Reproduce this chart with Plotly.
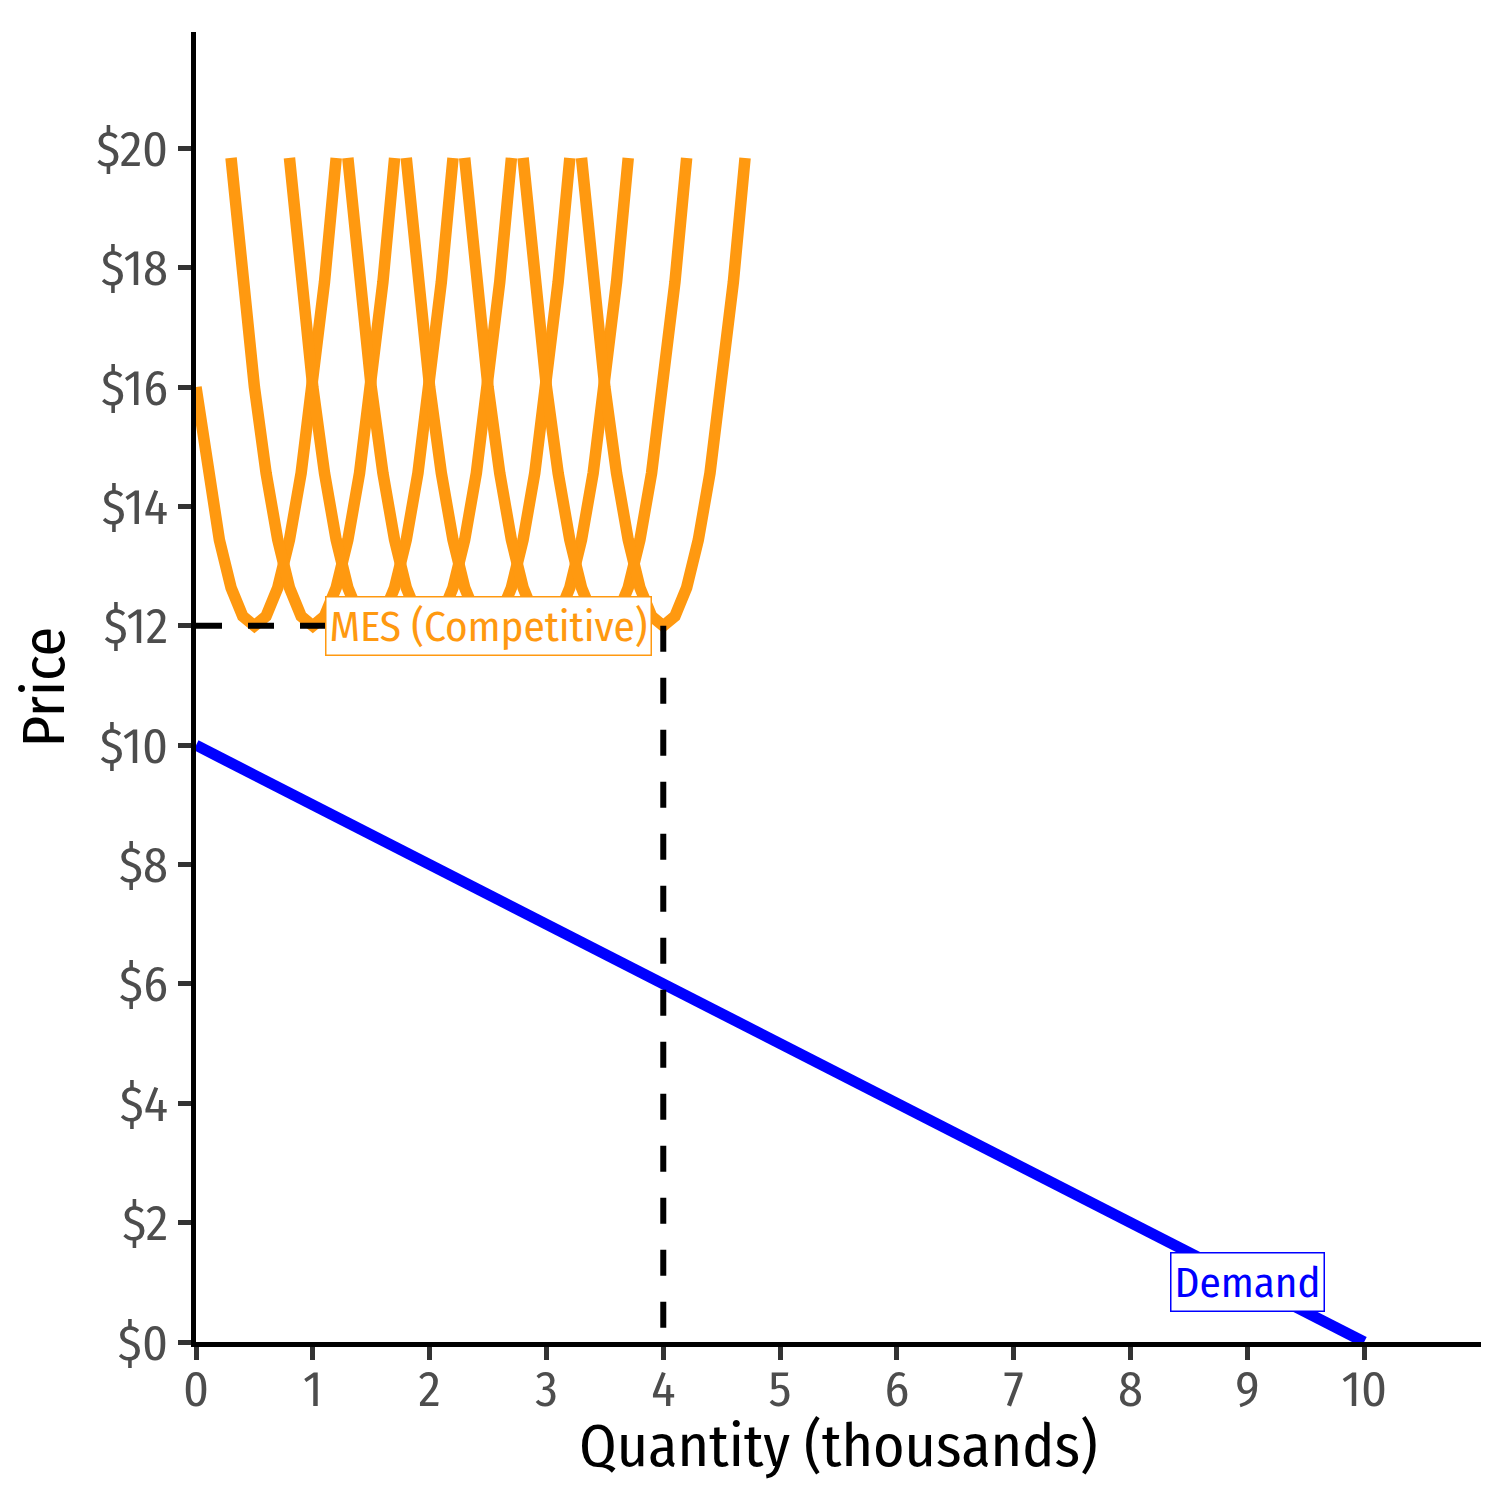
import plotly.graph_objects as go

# average cost curves: one U shape, repeated for each firm size
firm_centers = [0.5, 1.0, 1.5, 2.0, 2.5, 3.0, 3.5, 4.0]
atc_offsets = [-0.7, -0.6, -0.5, -0.4, -0.3, -0.2, -0.1, 0.0, 0.1, 0.2, 0.3, 0.4, 0.5, 0.6, 0.7]
atc_values = [19.84, 17.76, 16.00, 14.56, 13.44, 12.64, 12.16, 12.00, 12.16, 12.64, 13.44, 14.56, 16.00, 17.76, 19.84]

# demand curve
demand_q = [0, 10]
demand_p = [10, 0]

# minimum efficient scale
mes_q = 4
mes_p = 12

y_ticks = [0, 2, 4, 6, 8, 10, 12, 14, 16, 18, 20]
y_labels = ["$0", "$2", "$4", "$6", "$8", "$10", "$12", "$14", "$16", "$18", "$20"]
x_ticks = [0, 1, 2, 3, 4, 5, 6, 7, 8, 9, 10]

ORANGE = "#FF9910"
BLUE = "#0000FF"
FONT = "Fira Sans Condensed, Liberation Sans Narrow, Roboto Condensed, Arial Narrow, sans-serif"

fig = go.Figure()

for c in firm_centers:
    xs, ys = [], []
    for d, v in zip(atc_offsets, atc_values):
        if c + d >= 0:
            xs.append(c + d)
            ys.append(v)
    fig.add_trace(go.Scatter(x=xs, y=ys, mode="lines",
                             line=dict(color=ORANGE, width=11.5), hoverinfo="skip"))

fig.add_trace(go.Scatter(x=demand_q, y=demand_p, mode="lines",
                         line=dict(color=BLUE, width=11), hoverinfo="skip"))

# dashed guide lines at MES
fig.add_trace(go.Scatter(x=[0, mes_q], y=[mes_p, mes_p], mode="lines",
                         line=dict(color="black", width=6, dash="26px,26px")))
fig.add_trace(go.Scatter(x=[mes_q, mes_q], y=[mes_p, 0], mode="lines",
                         line=dict(color="black", width=6, dash="26px,26px")))

fig.add_annotation(x=2.5, y=12, text="MES (Competitive)", showarrow=False,
                   font=dict(family=FONT, size=43, color=ORANGE),
                   bgcolor="white", bordercolor=ORANGE, borderwidth=1.5, borderpad=3)
fig.add_annotation(x=9, y=1, text="Demand", showarrow=False,
                   font=dict(family=FONT, size=43, color=BLUE),
                   bgcolor="white", bordercolor=BLUE, borderwidth=1.5, borderpad=3)

# x axis title placed by hand so it sits close to the tick labels
fig.add_annotation(x=0.5, y=-0.05, xref="paper", yref="paper", xanchor="center", yanchor="top",
                   text="Quantity (thousands)", showarrow=False,
                   font=dict(family=FONT, size=60, color="black"))

fig.update_layout(
    width=1512, height=1512,
    margin=dict(l=188, r=39, t=24, b=178),
    paper_bgcolor="white", plot_bgcolor="white",
    showlegend=False,
    font=dict(family=FONT),
)
fig.update_xaxes(
    range=[0, 11], tickvals=x_ticks, showgrid=False, zeroline=False,
    showline=True, linecolor="black", linewidth=5,
    ticks="outside", ticklen=13, tickwidth=5, tickcolor="#333333",
    tickfont=dict(family=FONT, size=50, color="#4D4D4D"), ticklabelstandoff=-14,
)
fig.update_yaxes(
    range=[0, 21.95], tickvals=y_ticks, ticktext=y_labels, showgrid=False, zeroline=False,
    showline=True, linecolor="black", linewidth=5,
    ticks="outside", ticklen=13, tickwidth=5, tickcolor="#333333",
    tickfont=dict(family=FONT, size=50, color="#4D4D4D"),
    title=dict(text="Price", font=dict(family=FONT, size=60, color="black"), standoff=25),
)

fig.write_html("out.html")
